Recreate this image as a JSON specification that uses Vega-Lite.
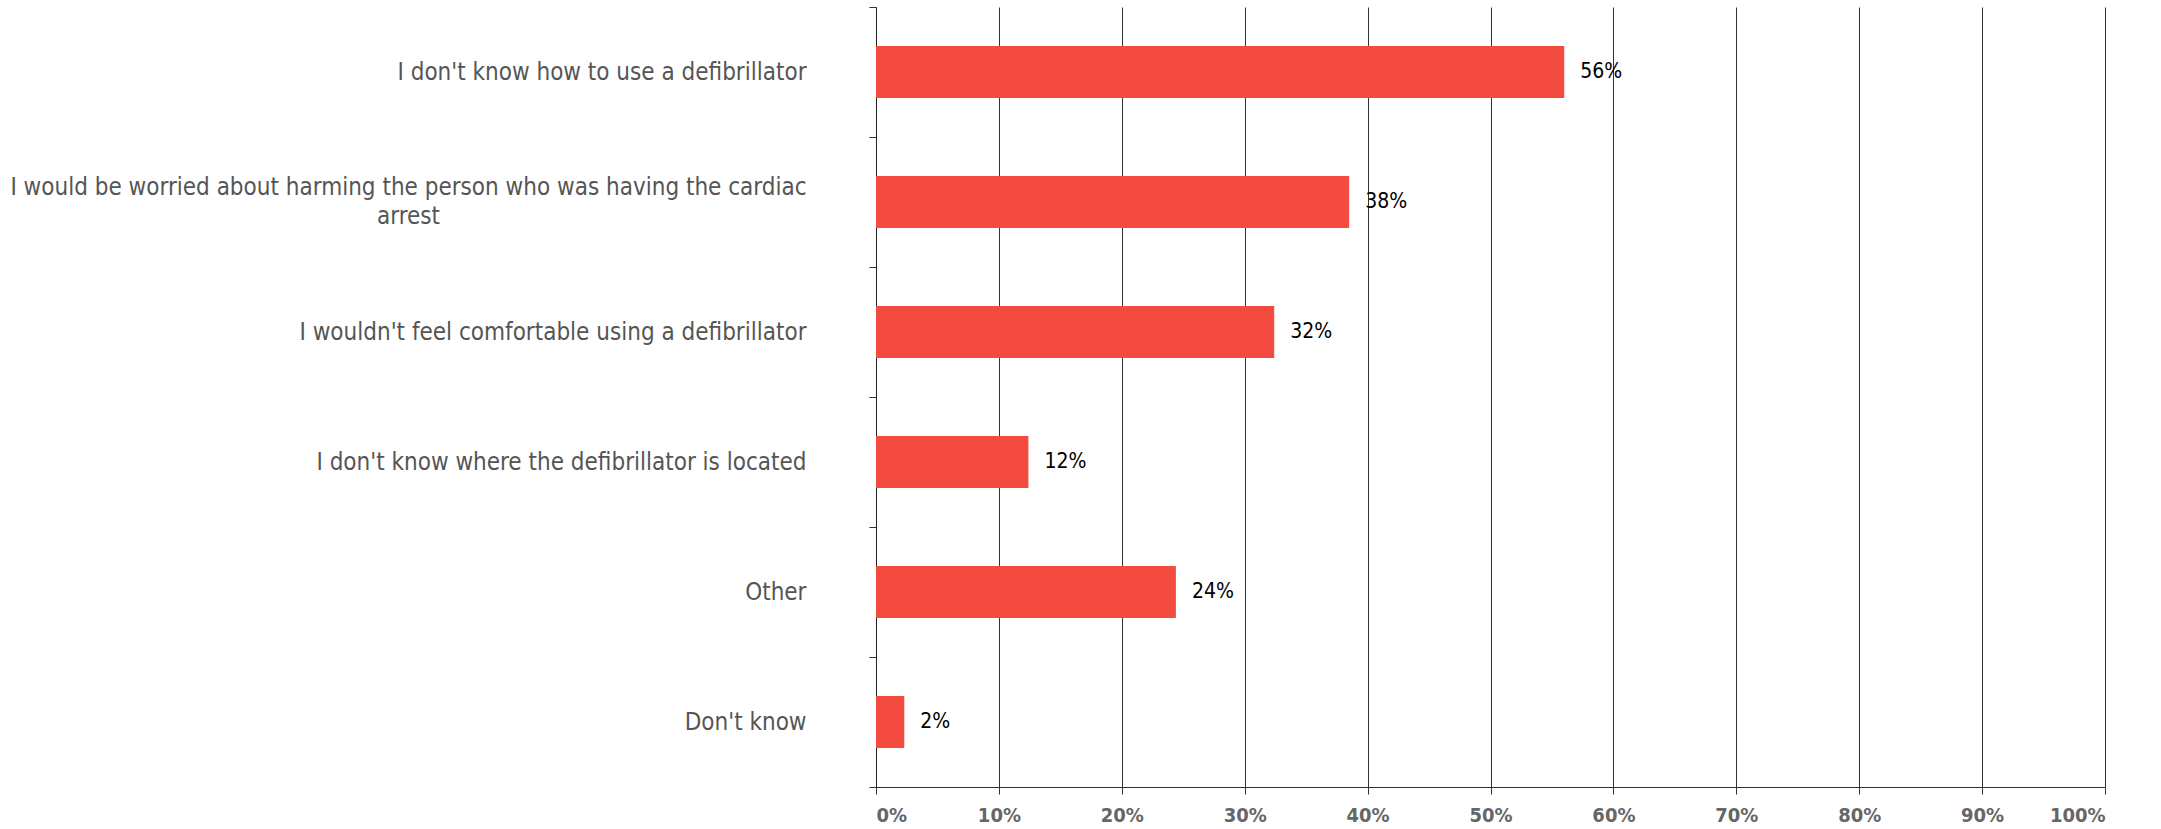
{
  "$schema": "https://vega.github.io/schema/vega-lite/v6.json",
  "autosize": "none",
  "width": 1229,
  "height": 780,
  "padding": {"left": 876, "top": 7, "right": 56, "bottom": 42},
  "background": "white",
  "data": {
    "values": [
      {"reason": "I don't know how to use a defibrillator", "share": 0.560, "label": "56%"},
      {"reason": "I would be worried about harming the person who was having the cardiac arrest", "share": 0.385, "label": "38%"},
      {"reason": "I wouldn't feel comfortable using a defibrillator", "share": 0.324, "label": "32%"},
      {"reason": "I don't know where the defibrillator is located", "share": 0.124, "label": "12%"},
      {"reason": "Other", "share": 0.244, "label": "24%"},
      {"reason": "Don't know", "share": 0.023, "label": "2%"}
    ]
  },
  "config": {
    "view": {"stroke": null},
    "font": "DejaVu Sans Condensed"
  },
  "encoding": {
    "y": {
      "field": "reason",
      "type": "nominal",
      "sort": null,
      "scale": {"paddingInner": 0, "paddingOuter": 0},
      "axis": {
        "title": null,
        "tickBand": "extent",
        "tickSize": 7,
        "tickColor": "#333333",
        "domainColor": "#222222",
        "labelPadding": {"condition": {"test": "datum.value == 'I would be worried about harming the person who was having the cardiac arrest'", "value": 461}, "value": 63},
        "labelAlign": {"condition": {"test": "datum.value == 'I would be worried about harming the person who was having the cardiac arrest'", "value": "center"}, "value": "right"},
        "labelOffset": {"condition": {"test": "datum.value == 'I would be worried about harming the person who was having the cardiac arrest'", "value": -15}, "value": 0},
        "labelLimit": 1000,
        "labelFontSize": 24,
        "labelColor": "#555555",
        "labelFont": "DejaVu Sans Condensed",
        "labelExpr": "datum.value == 'I would be worried about harming the person who was having the cardiac arrest' ? ['I would be worried about harming the person who was having the cardiac', 'arrest'] : datum.value",
        "labelLineHeight": 29
      }
    }
  },
  "layer": [
    {
      "mark": {"type": "bar", "color": "#f44b40", "height": {"band": 0.4}},
      "encoding": {
        "x": {
          "field": "share",
          "type": "quantitative",
          "scale": {"domain": [0, 1], "nice": false},
          "axis": {
            "title": null,
            "format": ".0%",
            "values": [0, 0.1, 0.2, 0.3, 0.4, 0.5, 0.6, 0.7, 0.8, 0.9, 1],
            "grid": true,
            "gridColor": "#333333",
            "gridOpacity": 1,
            "gridWidth": 1,
            "domainColor": "#333333",
            "tickColor": "#333333",
            "tickSize": 7,
            "labelPadding": 11,
            "labelFontSize": 20,
            "labelFontWeight": "bold",
            "labelColor": "#666666",
            "labelFont": "DejaVu Sans Condensed"
          }
        }
      }
    },
    {
      "mark": {"type": "text", "align": "left", "baseline": "middle", "dx": 16, "fontSize": 21, "color": "#000000", "font": "DejaVu Sans Condensed"},
      "encoding": {
        "x": {"field": "share", "type": "quantitative"},
        "text": {"field": "label"}
      }
    }
  ]
}
